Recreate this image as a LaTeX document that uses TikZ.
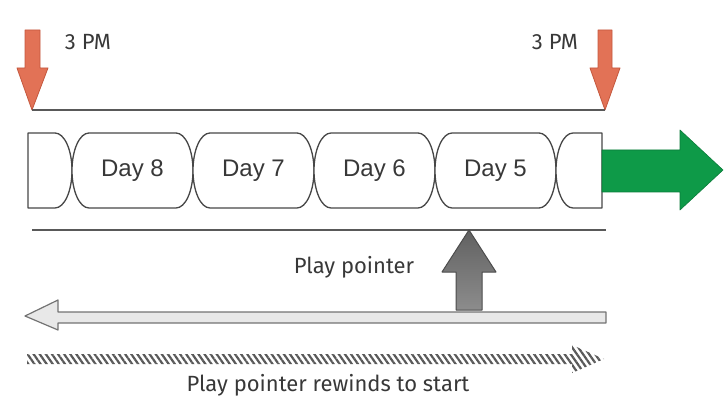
\documentclass[tikz,border=0pt]{standalone}
\usepackage{fontspec}
\setmainfont{Fira Sans}
\newfontfamily\dayfont{Liberation Sans}
\usetikzlibrary{patterns.meta}

\definecolor{pmred}{RGB}{226,114,86}
\definecolor{pmredline}{RGB}{196,88,62}
\definecolor{fwdgreen}{RGB}{14,154,72}
\definecolor{inkgray}{RGB}{56,56,56}

\begin{document}
\begin{tikzpicture}[x=1pt,y=1pt,line join=round]
    \tikzstyle{mark arrow}=[draw=pmredline,fill=pmred,line width=0.8pt]
    \tikzstyle{tape}=[draw=black!72,line width=1.3pt,fill=white]
    \tikzstyle{rule}=[draw=black!65,line width=1.6pt]
    \tikzstyle{label}=[text=inkgray,font=\fontsize{22}{26}\selectfont,inner sep=0pt]
    \tikzstyle{day label}=[text=inkgray,font=\dayfont\fontsize{24}{28}\selectfont,inner sep=0pt]
    \tikzstyle{pointer}=[draw=black!70,line width=1pt,top color=black!62,bottom color=black!45]
    \tikzstyle{rewind}=[draw=black!55,line width=1.2pt,fill=black!9]
    \tikzstyle{hatch}=[pattern={Lines[angle=-55,distance=5pt,line width=2.2pt]},pattern color=black!65]

    \useasboundingbox (0,0) rectangle (728,402);

    % the two 3 PM marks
    \draw[mark arrow] (25,372) -- (40,372) -- (40,334) -- (48,334) -- (32,292) -- (17,334) -- (25,334) -- cycle;
    \coordinate (start) at (32,292);
    \draw[mark arrow] (598,372) -- (612,372) -- (612,334) -- (620,334) -- (605,292) -- (590,334) -- (598,334) -- cycle;
    \coordinate (now) at (605,292);
    \node[label] (pm-left) at (88,360) {3 PM};
    \node[label] (pm-right) at (555,360) {3 PM};
    \draw[rule] (start) -- (now);

    % the tape of days
    \draw[tape] (28,269) -- (55,269) arc[start angle=90,end angle=-90,x radius=17,y radius=37.5] -- (28,194) -- cycle;
    \foreach \day/\x in {8/72,7/193,6/314,5/435}
    {
        \draw[tape] (\x+17,269) -- (\x+104,269) arc[start angle=90,end angle=-90,x radius=17,y radius=37.5]
            -- (\x+17,194) arc[start angle=270,end angle=90,x radius=17,y radius=37.5] -- cycle;
        \node[day label] (day-\day) at (\x+60.5,231.5) {Day \day};
    }
    \draw[tape] (602,269) -- (573,269) arc[start angle=90,end angle=270,x radius=17,y radius=37.5] -- (602,194) -- cycle;

    % forward arrow
    \draw[fill=fwdgreen,draw=fwdgreen!80!black,line width=0.6pt] (602,252) -- (680,252) -- (680,272) -- (723,232)
        -- (680,192) -- (680,210) -- (602,210) -- cycle;

    % lower rule and play pointer
    \coordinate (rule-l) at (32,172);
    \coordinate (rule-r) at (606,172);
    \draw[rule] (rule-l) -- (rule-r);
    \draw[rewind] (606,90) -- (58,90) -- (58,102) -- (25,86) -- (58,72) -- (58,79) -- (606,79) -- cycle;
    \draw[pointer] (456,92) -- (456,130) -- (442,130) -- (469,172) -- (496,130) -- (482,130) -- (482,92) -- cycle;
    \node[label] (play) at (354,135) {Play pointer};

    % rewind
    \fill[hatch] (27,38) -- (572,38) -- (572,29) -- (604,43) -- (572,57) -- (572,48) -- (27,48) -- cycle;
    \node[label] (rewinds) at (328,17) {Play pointer rewinds to start};
\end{tikzpicture}
\end{document}
